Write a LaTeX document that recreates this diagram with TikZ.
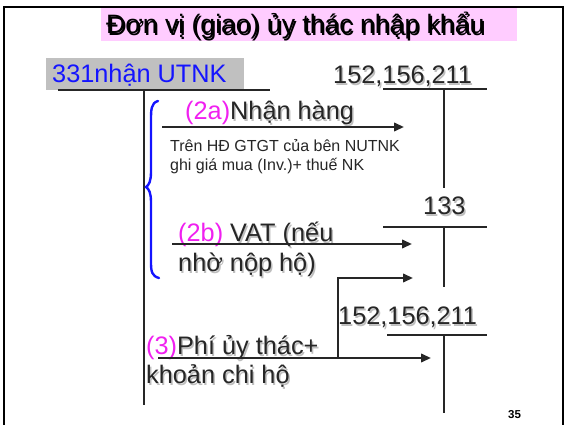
\documentclass[tikz,border=0pt]{standalone}
\usepackage{fontspec}
\setmainfont{Liberation Sans}
\usetikzlibrary{arrows.meta}
\definecolor{ink}{HTML}{262626}
\definecolor{shade}{HTML}{BEBEBE}
\definecolor{titlepink}{HTML}{FFCCFF}
\definecolor{boxgray}{HTML}{C0C0C0}
\definecolor{acctblue}{HTML}{1414FF}
\definecolor{hilite}{HTML}{F020F0}
\newcommand\hl[1]{\textcolor{hilite}{#1}}
% text with a soft grey drop shadow: [options]{name}{position}{text}
\newcommand\shtext[4][]{%
  \node[lbl,shadowtxt,#1,xshift=1.5pt,yshift=-1.5pt] at (#3) {#4};
  \node[lbl,#1] (#2) at (#3) {#4};}
\begin{document}
\begin{tikzpicture}[x=1pt,y=-1pt,
  lbl/.style={anchor=base west,inner sep=0pt,text=ink},
  shadowtxt/.style={text=shade,execute at begin node={\let\hl\phantom}},
  big/.style={font=\fontsize{25.3}{30}\selectfont},
  small/.style={font=\fontsize{16}{19}\selectfont},
  acct/.style={draw=ink,line width=2.3pt},
  flow/.style={draw=ink,line width=2.2pt,-{Triangle[length=10pt,width=8.5pt]}},
  brace/.style={draw=acctblue,line width=2.4pt,line cap=round}]
\useasboundingbox (0,0) rectangle (566,425);

% slide frame
\draw[line width=2pt,draw=black] (4,425) -- (4,7) -- (563,7) -- (563,425);

% title bar
\node[fill=titlepink,anchor=north west,minimum width=416pt,minimum height=33pt,inner sep=0pt] (titlebar) at (101,8) {};
\shtext[font=\fontsize{26.6}{31}\selectfont,text=black]{title}{106,34}{Đơn vị (giao) ủy thác nhập khẩu}

% account 331 (left T)
\node[fill=boxgray,anchor=north west,minimum width=198pt,minimum height=32pt,inner sep=0pt] (acctbox) at (46,58) {};
\node[lbl,big,text=acctblue] (a331) at (52,83) {331nhận UTNK};
\coordinate (l1) at (58,90);   \coordinate (l2) at (270,90);
\coordinate (lt) at (144,90);  \coordinate (lb) at (144,405);
\draw[acct] (l1) -- (l2);
\draw[acct] (lt) -- (lb);

% account 152,156,211 (top right T)
\shtext[big]{a152a}{333,84}{152,156,211}
\coordinate (r1a) at (383,89); \coordinate (r1b) at (487,89);
\coordinate (r1t) at (444,89); \coordinate (r1d) at (444,188);
\draw[acct] (r1a) -- (r1b);
\draw[acct] (r1t) -- (r1d);

% account 133
\shtext[big]{a133}{423,215}{133}
\coordinate (r2a) at (383,227); \coordinate (r2b) at (487,227);
\coordinate (r2t) at (444,227); \coordinate (r2d) at (444,287);
\draw[acct] (r2a) -- (r2b);
\draw[acct] (r2t) -- (r2d);

% account 152,156,211 (bottom right T)
\shtext[big]{a152b}{338,325}{152,156,211}
\coordinate (r3a) at (387,335); \coordinate (r3b) at (487,335);
\coordinate (r3t) at (444,335); \coordinate (r3d) at (444,413);
\draw[acct] (r3a) -- (r3b);
\draw[acct] (r3t) -- (r3d);

% blue brace grouping (2a) and (2b)
\draw[brace] (158,101) .. controls (151,103) and (151,110) .. (151,120)
  -- (151,172) .. controls (151,181) and (149,185) .. (146,187)
  .. controls (149,189) and (151,193) .. (151,202)
  -- (151,262) .. controls (151,272) and (152,276) .. (159,278);

% (2a) goods received
\shtext[big]{t2a}{185,120}{\hl{(2a)}Nhận hàng}
\coordinate (s2a) at (162,127); \coordinate (e2a) at (404,127);
\draw[flow] (s2a) -- (e2a);
\node[lbl,small] (n1) at (170,152) {Trên HĐ GTGT của bên NUTNK};
\node[lbl,small] (n2) at (170,171) {ghi giá mua (Inv.)+ thuế NK};

% (2b) VAT
\shtext[big]{t2b}{178,242}{\hl{(2b)} VAT (nếu}
\shtext[big]{t2c}{178,272}{nhờ nộp hộ)}
\coordinate (s2b) at (172,244); \coordinate (e2b) at (412,244);
\draw[flow] (s2b) -- (e2b);

% (3) fee and expenses paid on behalf
\shtext[big]{t3a}{146,355}{\hl{(3)}Phí ủy thác+}
\shtext[big]{t3b}{146,384}{khoản chi hộ}
\coordinate (s3) at (158,358); \coordinate (e3) at (431,358);
\coordinate (k3) at (338,358); \coordinate (e3v) at (413,278);
\draw[flow] (s3) -- (e3);
\draw[flow] (k3) |- (e3v);

% page number
\node[lbl,font=\fontsize{11.5}{13}\selectfont\bfseries,text=black] (pg) at (508,419) {35};
\end{tikzpicture}
\end{document}
